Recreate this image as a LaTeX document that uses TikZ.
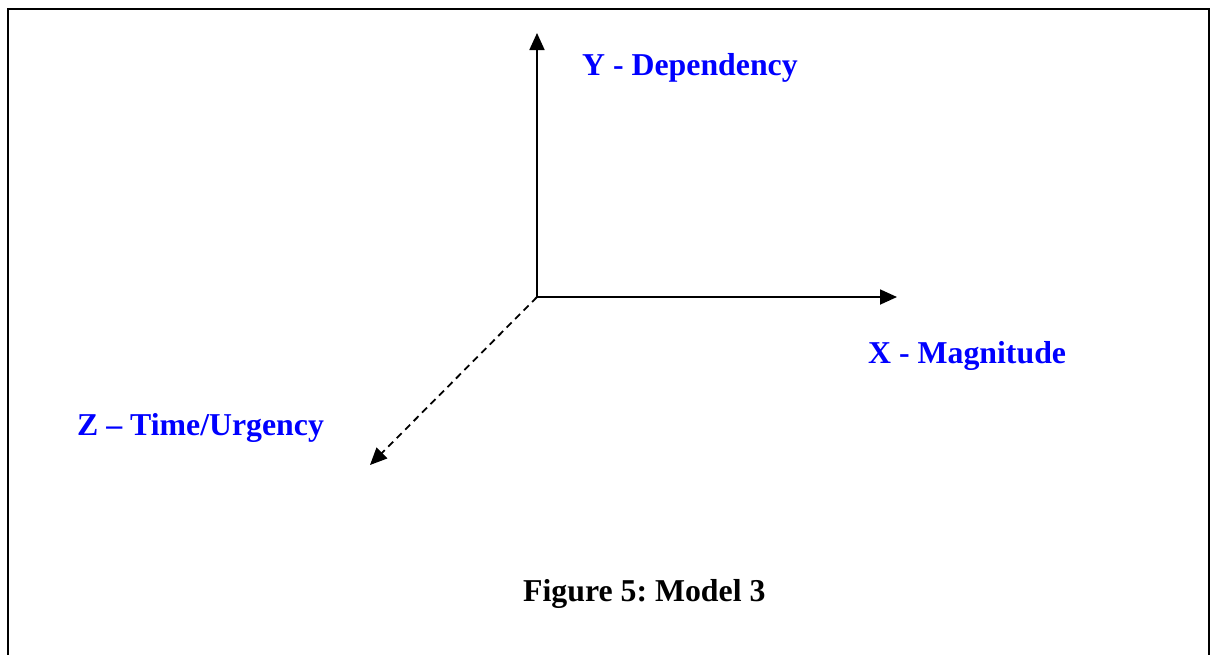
\documentclass[tikz,border=0pt]{standalone}
\usepackage{fontspec}
\setmainfont{Liberation Serif}
\usetikzlibrary{arrows.meta}
\definecolor{lblue}{RGB}{0,0,255}
\frenchspacing
\begin{document}
\begin{tikzpicture}[x=1pt,y=-1pt,
  axis/.style={line width=1.8pt,-{Triangle[length=17pt,width=15pt]}},
  lbl/.style={anchor=base west,inner sep=0pt,text=lblue,font=\fontsize{31.8}{36}\selectfont\bfseries},
  captext/.style={anchor=base west,inner sep=0pt,font=\fontsize{31.8}{36}\selectfont\bfseries}]
\useasboundingbox (0,0) rectangle (1211,654);
\begin{scope}
\clip (0,0) rectangle (1211,654);
\draw[line width=2.8pt] (8,670) -- (8,9) -- (1209,9) -- (1209,670);
\end{scope}
\coordinate (o) at (537,297);
\coordinate (ytip) at (537,33);
\coordinate (xtip) at (897,297);
\coordinate (ztip) at (370,465);
\draw[axis] (o) -- (ytip);
\draw[axis] (o) -- (xtip);
\draw[axis,dash pattern=on 7pt off 5pt] (o) -- (ztip);
\node[lbl] (ylab) at (582,75.5) {Y - Dependency};
\node[lbl] (xlab) at (868,363) {X - Magnitude};
\node[lbl] (zlab) at (77,435) {Z – Time/Urgency};
\node[captext] (fig) at (523,601) {Figure 5: Model 3};
\end{tikzpicture}
\end{document}
